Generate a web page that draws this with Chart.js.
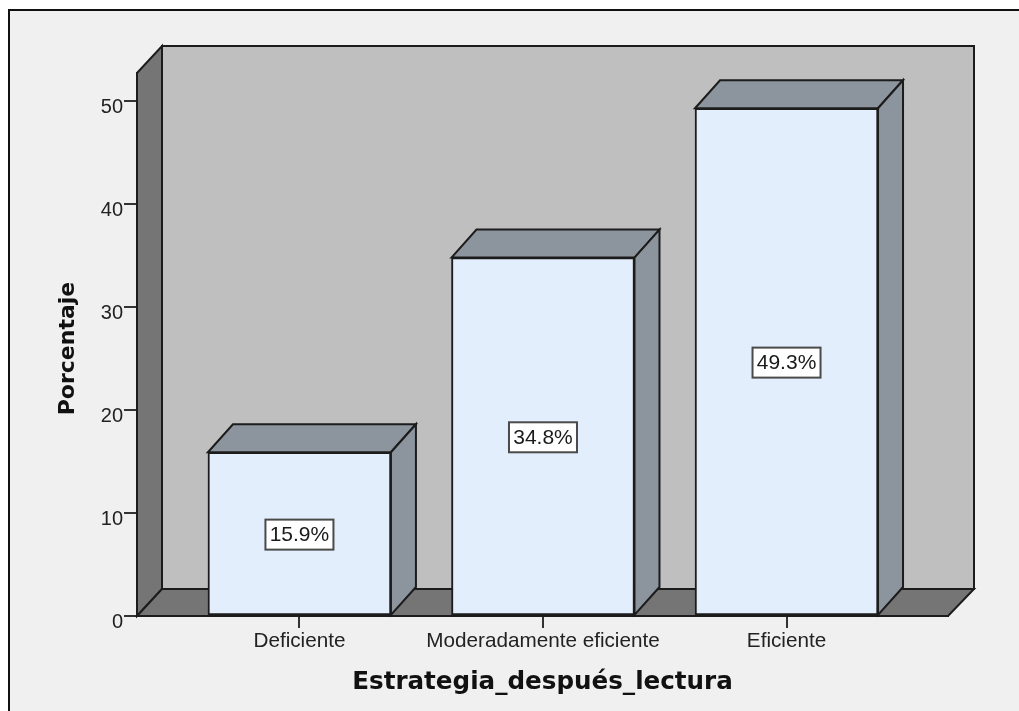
<!DOCTYPE html>
<html><head><meta charset="utf-8">
<style>html,body{margin:0;padding:0;background:#fff}canvas{display:block}</style>
<script src="https://cdn.jsdelivr.net/npm/chart.js@4"></script></head>
<body><canvas id="c" width="1019" height="711"></canvas>
<script>
const categories = ['Deficiente','Moderadamente eficiente','Eficiente'];
const percentages = [15.9,34.8,49.3];
const valueTicks = [0,10,20,30,40,50];
const xTitle = 'Estrategia_después_lectura';
const yTitle = 'Porcentaje';
const LINE = '#1c1c1c';
function poly(ctx, pts, fill){
  ctx.beginPath();
  pts.forEach((p,i)=> i?ctx.lineTo(p[0],p[1]):ctx.moveTo(p[0],p[1]));
  ctx.closePath();
  ctx.fillStyle = fill; ctx.fill();
  ctx.lineWidth = 2; ctx.strokeStyle = LINE; ctx.lineJoin='miter'; ctx.stroke();
}
const frame = {
  id:'frame',
  beforeDraw(chart){
    const c = chart.ctx;
    c.save();
    c.fillStyle='#fff'; c.fillRect(0,0,chart.width,chart.height);
    c.fillStyle='#f0f0f0'; c.fillRect(8,10,chart.width-8,chart.height-10);
    c.strokeStyle='#111'; c.lineWidth=2;
    c.beginPath(); c.moveTo(9,chart.height+2); c.lineTo(9,10); c.lineTo(chart.width+2,10); c.stroke();
    c.restore();
  },
  beforeDatasetsDraw(chart){
    const c = chart.ctx, a = chart.chartArea, dx=25, dy=27;
    c.save();
    poly(c,[[a.left+dx,a.top-dy],[a.right+26,a.top-dy],[a.right+26,a.bottom-dy],[a.left+dx,a.bottom-dy]],'#bfbfbf');
    poly(c,[[a.left,a.top],[a.left+dx,a.top-dy],[a.left+dx,a.bottom-dy],[a.left,a.bottom]],'#757575');
    poly(c,[[a.left,a.bottom],[a.left+dx,a.bottom-dy],[a.right+26,a.bottom-dy],[a.right,a.bottom]],'#757575');
    chart.getDatasetMeta(0).data.forEach(b=>{
      const l=b.x-b.width/2, r=b.x+b.width/2, t=b.y, z=b.base, ddy=28;
      poly(c,[[l,t],[l+dx,t-ddy],[r+dx,t-ddy],[r,t]],'#8c949e');
      poly(c,[[r,t],[r+dx,t-ddy],[r+dx,z-ddy],[r,z]],'#8c949e');
    });
    c.restore();
  },
  afterDatasetsDraw(chart){
    const c = chart.ctx;
    c.save();
    c.font='21px "Liberation Sans"'; c.textAlign='center'; c.textBaseline='middle';
    chart.getDatasetMeta(0).data.forEach((b,i)=>{
      const txt=percentages[i].toFixed(1)+'%';
      const my=(b.y+b.base)/2+1, w=68, h=30;
      c.fillStyle='#fff'; c.fillRect(b.x-w/2,my-h/2,w,h);
      c.strokeStyle='#4a4a4a'; c.lineWidth=2; c.strokeRect(b.x-w/2,my-h/2,w,h);
      c.fillStyle='#1a1a1a'; c.fillText(txt,b.x,my+1);
    });
    c.restore();
  }
};
new Chart(document.getElementById('c'),{
  type:'bar',
  data:{datasets:[{
    data:categories.map((n,i)=>({x:i,y:percentages[i]})),
    backgroundColor:'#e2eefb',borderColor:LINE,borderWidth:2,barThickness:183,borderSkipped:false
  }]},
  plugins:[frame],
  options:{
    responsive:false,animation:false,
    layout:{padding:{top:73,right:71,left:0,bottom:0}},
    plugins:{legend:{display:false},tooltip:{enabled:false}},
    scales:{
      x:{type:'linear',min:-0.667,max:2.663,offset:false,
        afterBuildTicks(s){s.ticks=categories.map((n,i)=>({value:i}));},
        afterFit(s){s.height=95;},
        grid:{offset:false,drawOnChartArea:false,tickLength:12,color:'#333',lineWidth:2,tickColor:'#333'},
        border:{color:LINE,width:2},
        ticks:{callback:v=>categories[v],color:'#222',font:{family:'Liberation Sans',size:20.7},padding:1,maxRotation:0,autoSkip:false},
        title:{display:true,text:xTitle,color:'#111',font:{family:'DejaVu Sans',size:24.6,weight:'bold'},padding:{top:0,bottom:14}}
      },
      y:{min:0,max:52.72,
        afterBuildTicks(s){s.ticks=valueTicks.map(v=>({value:v}));},
        afterFit(s){s.width=137;},
        afterUpdate(s){
          const draw=s.drawLabels, title=s.drawTitle;
          s.drawLabels=function(a){this.ctx.save();this.ctx.translate(0,3);draw.call(this,a);this.ctx.restore();};
          s.drawTitle=function(a){this.ctx.save();this.ctx.translate(0,2);title.call(this,a);this.ctx.restore();};
        },
        grid:{drawOnChartArea:false,tickLength:13,color:'#333',lineWidth:2,tickColor:'#333'},
        border:{color:LINE,width:2},
        ticks:{color:'#222',font:{family:'Liberation Sans',size:20},padding:1},
        title:{display:true,text:yTitle,color:'#111',font:{family:'DejaVu Sans',size:22,weight:'bold'},padding:{top:55,bottom:0}}
      }
    }
  }
});
</script></body></html>
